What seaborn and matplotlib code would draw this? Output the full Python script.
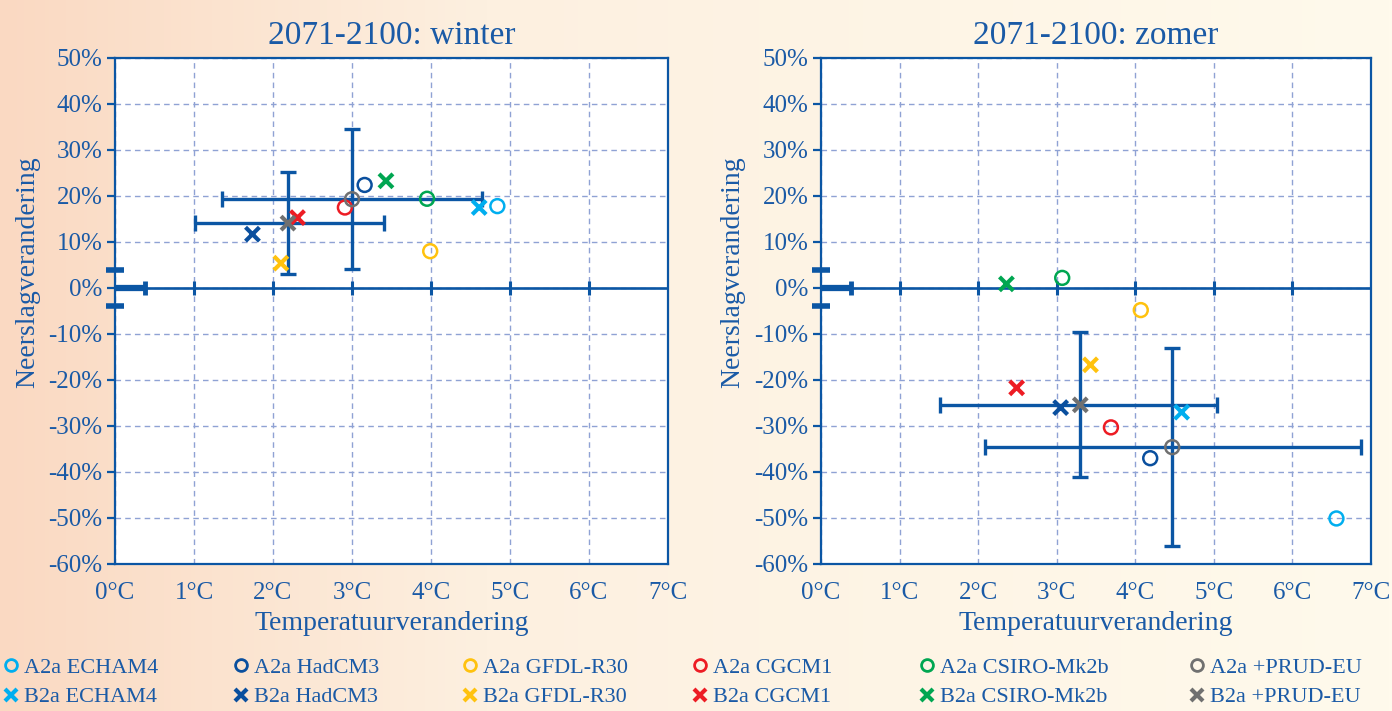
import numpy as np
import pandas as pd
import matplotlib
matplotlib.use("Agg")
import matplotlib.pyplot as plt
import seaborn as sns
from matplotlib.lines import Line2D
from matplotlib.colors import to_rgb

# ---------------- data ----------------
models = ["ECHAM4", "HadCM3", "GFDL-R30", "CGCM1", "CSIRO-Mk2b", "+PRUD-EU"]
colors = ["#00aeef", "#0a4f9e", "#ffc20e", "#ed1c24", "#00a651", "#707070"]

win_a2_t = [4.84, 3.16, 3.99, 2.91, 3.95, 3.00]
win_a2_p = [17.8, 22.4, 8.0, 17.5, 19.4, 19.3]
win_b2_t = [4.61, 1.74, 2.10, 2.31, 3.43, 2.19]
win_b2_p = [17.5, 11.7, 5.4, 15.3, 23.3, 14.1]

zom_a2_t = [6.56, 4.19, 4.07, 3.69, 3.07, 4.47]
zom_a2_p = [-50.1, -37.0, -4.8, -30.3, 2.2, -34.6]
zom_b2_t = [4.59, 3.05, 3.43, 2.49, 2.36, 3.30]
zom_b2_p = [-27.0, -26.0, -16.7, -21.7, 0.9, -25.4]

# spread ranges (min, max) around the +PRUD-EU point
win_a2_trange = [1.36, 4.64]
win_a2_prange = [4.1, 34.5]
win_b2_trange = [1.01, 3.41]
win_b2_prange = [3.0, 25.2]
zom_a2_trange = [2.09, 6.87]
zom_a2_prange = [-56.0, -13.1]
zom_b2_trange = [1.52, 5.04]
zom_b2_prange = [-41.1, -9.5]

titles = ["2071-2100: winter", "2071-2100: zomer"]
x_ticks = [0, 1, 2, 3, 4, 5, 6, 7]
x_ticklabels = [f"{v}°C" for v in x_ticks]
y_ticks = list(range(-60, 51, 10))
y_ticklabels = [f"{v}%" for v in y_ticks]

# ---------------- style ----------------
sns.set_theme(style="white")
plt.rcParams["font.family"] = ["Liberation Serif", "DejaVu Serif"]
TXT = "#1a5aa6"
AX = "#0b56a4"
GRID = "#8fa2d4"

fig = plt.figure(figsize=(13.92, 7.11), dpi=100)

# background gradient
bg = fig.add_axes([0, 0, 1, 1], zorder=-5)
xs = np.linspace(0, 1, 400)
c0, c1, c2 = np.array(to_rgb("#fad9c2")), np.array(to_rgb("#fdf0e0")), np.array(to_rgb("#fffaec"))
grad = np.where(xs[:, None] < 0.35,
                c0 + (c1 - c0) * (xs[:, None] / 0.35),
                c1 + (c2 - c1) * ((xs[:, None] - 0.35) / 0.65))
bg.imshow(grad[None, :, :], aspect="auto", extent=[0, 1, 0, 1])
bg.set_axis_off()

W, H = 1392, 711
ax1 = fig.add_axes([115 / W, 1 - 564 / H, 553 / W, 506 / H])
ax2 = fig.add_axes([821 / W, 1 - 564 / H, 550 / W, 506 / H])

datasets = [
    (ax1, win_a2_t, win_a2_p, win_b2_t, win_b2_p,
     win_a2_trange, win_a2_prange, win_b2_trange, win_b2_prange),
    (ax2, zom_a2_t, zom_a2_p, zom_b2_t, zom_b2_p,
     zom_a2_trange, zom_a2_prange, zom_b2_trange, zom_b2_prange),
]

pal = dict(zip(models, colors))

for i, (ax, a2t, a2p, b2t, b2p, a2tr, a2pr, b2tr, b2pr) in enumerate(datasets):
    ax.set_facecolor("white")
    ax.set_xlim(0, 7)
    ax.set_ylim(-60, 50)
    ax.set_xticks(x_ticks)
    ax.set_xticklabels(x_ticklabels)
    ax.set_yticks(y_ticks)
    ax.set_yticklabels(y_ticklabels)
    ax.grid(True, color=GRID, linestyle=(0, (4, 3)), linewidth=1.0, zorder=0)
    for s in ax.spines.values():
        s.set_color(AX)
        s.set_linewidth(1.6)
    ax.tick_params(axis="y", direction="out", length=6, width=1.6, color=AX,
                   labelsize=18, labelcolor=TXT, pad=3, left=True)
    ax.tick_params(axis="x", length=0, labelsize=18, labelcolor=TXT, pad=13, bottom=True)

    # zero line with ticks
    ax.axhline(0, color=AX, lw=1.9, zorder=2)
    ax.plot(x_ticks[1:-1], [0] * (len(x_ticks) - 2), ls="none", marker="|",
            ms=10, mew=2.2, color=AX, zorder=2)
    # axis-break decoration near origin
    ax.plot([0, 0.38], [0, 0], color=AX, lw=4.5, solid_capstyle="butt", zorder=3, clip_on=False)
    ax.plot([0.38], [0], marker="|", ms=10, mew=3.5, color=AX, zorder=3, clip_on=False)
    for yy in (4, -4):
        ax.plot([-0.11, 0.12], [yy, yy], color=AX, lw=4, solid_capstyle="butt",
                zorder=4, clip_on=False)

    # spread bars centred on +PRUD-EU points
    for t, p, tr, pr in ((a2t, a2p, a2tr, a2pr), (b2t, b2p, b2tr, b2pr)):
        ct, cp = t[-1], p[-1]
        ax.errorbar([ct], [cp], xerr=[[ct - tr[0]], [tr[1] - ct]],
                    yerr=[[cp - pr[0]], [pr[1] - cp]], fmt="none",
                    ecolor=AX, elinewidth=2.4, capsize=5.5, capthick=2.4, zorder=3)

    # model points
    df_a = pd.DataFrame({"T": a2t, "P": a2p, "model": models})
    df_b = pd.DataFrame({"T": b2t, "P": b2p, "model": models})
    sns.scatterplot(data=df_a, x="T", y="P", hue="model", palette=pal, marker="o",
                    s=100, linewidth=1.8, legend=False, ax=ax, zorder=5)
    coll = ax.collections[-1]
    fc = coll.get_facecolors()
    coll.set_edgecolors(fc)
    coll.set_facecolors("none")
    sns.scatterplot(data=df_b, x="T", y="P", hue="model", palette=pal, marker="x",
                    s=100, linewidth=3.0, legend=False, ax=ax, zorder=5)
    coll = ax.collections[-1]
    coll.set_edgecolors(coll.get_facecolors())

    ax.set_title(titles[i], fontsize=24, color=TXT, pad=10)
    ax.set_xlabel("Temperatuurverandering", fontsize=20, color=TXT, labelpad=5)
    ax.set_ylabel("Neerslagverandering", fontsize=20, color=TXT)
    ax.yaxis.set_label_coords(-0.136 if i == 0 else -0.138, 0.576)

# ---------------- legend ----------------
col_x = [3, 233, 462, 692, 919, 1189]
for m, c, x in zip(models, colors, col_x):
    hs = [Line2D([], [], ls="none", marker="o", mfc="none", mec=c, mew=2, ms=8.5),
          Line2D([], [], ls="none", marker="x", color=c, mew=3, ms=8.5)]
    fig.legend(hs, [f"A2a {m}", f"B2a {m}"], loc="upper left",
               bbox_to_anchor=(x / W, 1 - 657 / H), frameon=False, borderaxespad=0,
               borderpad=0, handlelength=0.7, handletextpad=0.25, labelspacing=0.42,
               fontsize=16, labelcolor=TXT)

fig.savefig("out.png", dpi=100)
